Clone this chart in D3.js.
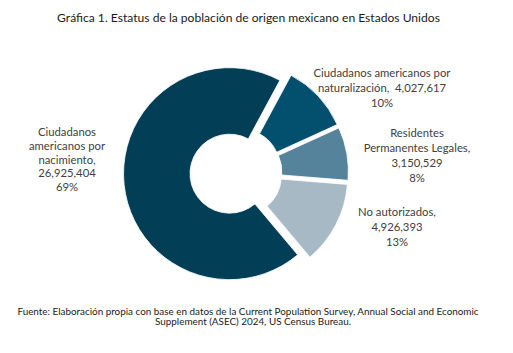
<!DOCTYPE html>
<html><head><meta charset="utf-8">
<script src="https://cdn.jsdelivr.net/npm/d3@7"></script>
<style>
html,body{margin:0;padding:0;background:#fff;}
svg{display:block;}
text{font-family:Lato,"Open Sans",sans-serif;white-space:pre;}
</style></head>
<body>
<script>
const categories = ["Ciudadanos americanos por nacimiento","Ciudadanos americanos por naturalización","Residentes Permanentes Legales","No autorizados"];
const values = [26925404, 4027617, 3150529, 4926393];
const percents = ["69%","10%","8%","13%"];
const labelLines = [
  ["Ciudadanos","americanos por","nacimiento,","26,925,404","69%"],
  ["Ciudadanos americanos por","naturalización,  4,027,617","10%"],
  ["Residentes","Permanentes Legales,","3,150,529","8%"],
  ["No autorizados,","4,926,393","13%"]
];
const colors = ["#023f57","#03506e","#54839b","#a8b9c6"];
const title = "Gráfica 1. Estatus de la población de origen mexicano en Estados Unidos";
const footer = ["Fuente: Elaboración propia con base en datos de la Current Population Survey, Annual Social and Economic","Supplement (ASEC) 2024, US Census Bureau."];

const W=513,H=353;
const svg=d3.select("body").append("svg").attr("width",W).attr("height",H);

svg.append("text").attr("x",248.5).attr("y",21.5).attr("text-anchor","middle")
  .attr("font-size",12.1).attr("fill","#1a1a1a").text(title);

const cx=236, cy=173, R=106, r=39.5, explode=6.5;
const start=140*Math.PI/180;
const pie=d3.pie().sort(null).value(d=>d).startAngle(start).endAngle(start+2*Math.PI);
const arcs=pie(values);
const arc=d3.arc().innerRadius(r).outerRadius(R);
const g=svg.append("g").attr("transform",`translate(${cx},${cy})`);
g.selectAll("path").data(arcs).join("path")
  .attr("d",arc)
  .attr("fill",(d,i)=>colors[i])
  .attr("stroke","#fff").attr("stroke-width",0.8)
  .attr("transform",d=>{const a=(d.startAngle+d.endAngle)/2;return `translate(${explode*Math.sin(a)},${-explode*Math.cos(a)})`;});

const labelPos=[[67,136,13.8],[382,77,14.8],[417,137,15],[397,216,15]];
labelLines.forEach((lines,i)=>{
  const [x,y,lh]=labelPos[i];
  const t=svg.append("text").attr("text-anchor","middle").attr("font-size",11.3).attr("fill","#404040");
  lines.forEach((s,j)=>t.append("tspan").attr("x",x).attr("y",y+j*lh).text(s));
});

footer.forEach((s,j)=>svg.append("text").attr("x",j?253:248).attr("y",314.5+j*10.5).attr("text-anchor","middle")
  .attr("font-size",9.9).attr("fill","#1a1a1a").text(s));
</script>
</body></html>
